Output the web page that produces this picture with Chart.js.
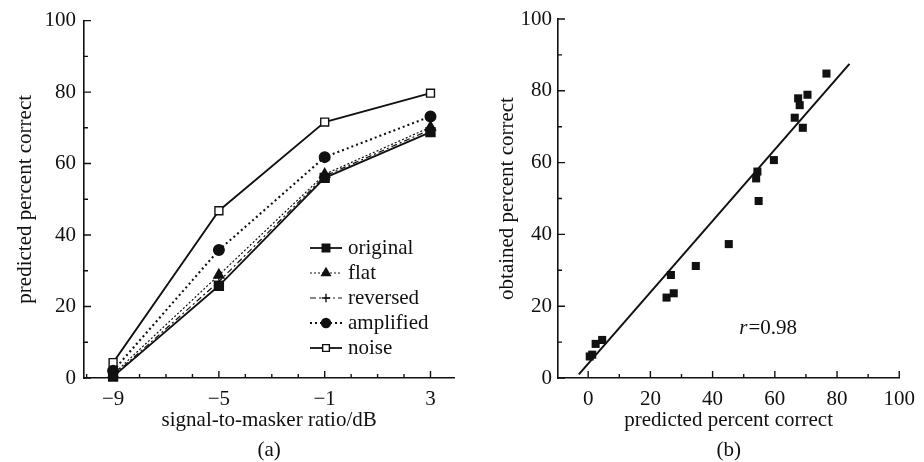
<!DOCTYPE html>
<html>
<head>
<meta charset="utf-8">
<script src="https://cdn.jsdelivr.net/npm/chart.js@4.4.0/dist/chart.umd.min.js"></script>
<style>
  html, body { margin: 0; padding: 0; background: #fff; }
  #wrap { position: relative; width: 924px; height: 462px; }
  .panel { position: absolute; top: 0; width: 462px; height: 462px; }
  #panelA { left: 0; }
  #panelB { left: 462px; }
</style>
</head>
<body>
<div id="wrap">
  <div class="panel" id="panelA"><canvas id="chartA"></canvas></div>
  <div class="panel" id="panelB"><canvas id="chartB"></canvas></div>
</div>
<script>
// ---- panel (a): predicted percent correct vs signal-to-masker ratio
const snrValues = [-9, -5, -1, 3];
const originalPct = [0.4, 25.8, 56, 68.8];
const flatPct = [1, 28.8, 57, 70.2];
const reversedPct = [0.6, 27, 56.5, 69.5];
const amplifiedPct = [2, 35.8, 61.8, 73.2];
const noisePct = [4.3, 46.8, 71.6, 79.7];
const snrTicks = [-9, -5, -1, 3];
const pctTicks = [0, 20, 40, 60, 80, 100];

// ---- panel (b): obtained vs predicted percent correct
const predictedPct = [0.5, 1.3, 2.4, 4.5, 25.2, 26.6, 27.5, 34.6, 45.2, 54.0, 54.4, 54.8, 59.7, 66.4, 67.5, 68.0, 69.0, 70.5, 76.6];
const obtainedPct = [6.0, 6.5, 9.5, 10.6, 22.4, 28.7, 23.6, 31.2, 37.3, 55.6, 57.5, 49.3, 60.7, 72.5, 77.9, 76.0, 69.7, 78.9, 84.8];
const fitLineX = [-3, 84];
const fitLineY = [1, 87.5];
const predTicks = [0, 20, 40, 60, 80, 100];
const rLabel = { x: 48.6, y: 13.9, name: 'r', value: '=0.98' };

const FONT = "'Liberation Serif', 'Times New Roman', serif";
const FSIZE = 21;
const tickFont = { family: FONT, size: FSIZE };
const ink = '#111';

const toPoints = (xs, ys) => xs.map((x, i) => ({ x: x, y: ys[i] }));
const fmtNum = v => (v < 0 ? '\u2212' + Math.abs(v) : String(v));

// inward major + minor tick marks
const innerTicks = {
  id: 'innerTicks',
  afterDraw(chart, args, opts) {
    const ctx = chart.ctx;
    const area = chart.chartArea;
    const xs = chart.scales.x, ys = chart.scales.y;
    ctx.save();
    ctx.strokeStyle = ink;
    ctx.lineWidth = 1.4;
    ctx.beginPath();
    for (let v = opts.xFrom; v <= xs.max + 1e-9; v += opts.xStep) {
      if (v < xs.min) continue;
      const major = opts.xMajor.some(m => Math.abs(m - v) < 1e-6);
      const px = xs.getPixelForValue(v);
      ctx.moveTo(px, area.bottom);
      ctx.lineTo(px, area.bottom - (major ? 7 : 4));
    }
    for (let v = 0; v <= ys.max + 1e-9; v += opts.yStep) {
      const major = opts.yMajor.some(m => Math.abs(m - v) < 1e-6);
      const py = ys.getPixelForValue(v);
      ctx.moveTo(area.left, py);
      ctx.lineTo(area.left + (major ? 7 : 4), py);
    }
    ctx.stroke();
    ctx.restore();
  }
};

// legend with line sample + marker, drawn in the lower right of panel (a)
const sampleLegend = {
  id: 'sampleLegend',
  afterDraw(chart, args, opts) {
    if (!opts.show) return;
    const ctx = chart.ctx;
    ctx.save();
    chart.data.datasets.forEach((ds, i) => {
      const y = opts.top + i * opts.rowGap;
      ctx.strokeStyle = ds.borderColor;
      ctx.lineWidth = ds.borderWidth;
      ctx.setLineDash(ds.borderDash || []);
      ctx.beginPath();
      ctx.moveTo(opts.left, y);
      ctx.lineTo(opts.left + opts.lineLen, y);
      ctx.stroke();
      ctx.setLineDash([]);
      ctx.fillStyle = ds.pointBackgroundColor;
      ctx.strokeStyle = ds.pointBorderColor;
      ctx.lineWidth = ds.pointBorderWidth;
      Chart.helpers.drawPoint(ctx, {
        pointStyle: ds.pointStyle, radius: ds.pointRadius * 0.85,
        rotation: 0, borderWidth: ds.pointBorderWidth
      }, opts.left + opts.lineLen / 2, y);
      ctx.fillStyle = ink;
      ctx.font = FSIZE + 'px ' + FONT;
      ctx.textBaseline = 'middle';
      ctx.fillText(ds.label, opts.left + opts.lineLen + 6, y);
    });
    ctx.restore();
  }
};

// r = 0.98 annotation
const rText = {
  id: 'rText',
  afterDraw(chart, args, opts) {
    if (!opts.show) return;
    const ctx = chart.ctx;
    const px = chart.scales.x.getPixelForValue(rLabel.x);
    const py = chart.scales.y.getPixelForValue(rLabel.y);
    ctx.save();
    ctx.fillStyle = ink;
    ctx.textBaseline = 'middle';
    ctx.font = 'italic ' + FSIZE + 'px ' + FONT;
    ctx.fillText(rLabel.name, px, py);
    const w = ctx.measureText(rLabel.name).width;
    ctx.font = FSIZE + 'px ' + FONT;
    ctx.fillText(rLabel.value, px + w + 1, py);
    ctx.restore();
  }
};

function axis(opts) {
  return {
    type: 'linear',
    min: opts.min,
    max: opts.max,
    afterBuildTicks: s => { s.ticks = opts.ticks.map(v => ({ value: v })); },
    afterFit: s => { if (opts.width) s.width = opts.width; if (opts.height) s.height = opts.height; },
    grid: { display: false, drawTicks: false },
    border: { display: true, color: ink, width: 1.6 },
    ticks: {
      color: ink, font: tickFont, padding: opts.tickPad, autoSkip: false, maxRotation: 0,
      callback: v => fmtNum(v)
    },
    title: {
      display: true, text: opts.title, color: ink,
      font: { family: FONT, size: FSIZE, lineHeight: 1.45 },
      padding: opts.titlePad
    }
  };
}

function lineSet(label, values, dash, width, style, radius, fill) {
  return {
    label: label,
    data: toPoints(snrValues, values),
    borderColor: ink,
    borderWidth: width,
    borderDash: dash,
    pointStyle: style,
    pointRadius: radius,
    pointBackgroundColor: fill,
    pointBorderColor: ink,
    pointBorderWidth: 1.4,
    clip: false,
    tension: 0
  };
}

new Chart(document.getElementById('chartA'), {
  type: 'line',
  data: {
    datasets: [
      lineSet('original', originalPct, [], 1.8, 'rect', 6.3, ink),
      lineSet('flat', flatPct, [2, 2], 1.2, 'triangle', 5.8, ink),
      lineSet('reversed', reversedPct, [6, 3, 2, 3], 1.2, 'cross', 5, ink),
      lineSet('amplified', amplifiedPct, [2, 3], 2.1, 'circle', 5.3, ink),
      lineSet('noise', noisePct, [], 1.8, 'rect', 5.6, '#fff')
    ]
  },
  options: {
    responsive: true,
    maintainAspectRatio: false,
    animation: false,
    events: [],
    layout: { padding: { top: 19, right: 4, left: 0, bottom: 0 } },
    scales: {
      x: axis({ min: -10.1, max: 3.9, ticks: snrTicks, height: 84, tickPad: 9,
        title: ['signal-to-masker ratio/dB', '(a)'], titlePad: { top: 0, bottom: -4 } }),
      y: axis({ min: 0, max: 100, ticks: pctTicks, width: 84, tickPad: 8,
        title: 'predicted percent correct', titlePad: { top: 10, bottom: 0 } })
    },
    plugins: {
      legend: { display: false },
      tooltip: { enabled: false },
      innerTicks: { xFrom: -10, xStep: 1, xMajor: snrTicks, yStep: 10, yMajor: pctTicks },
      sampleLegend: { show: true, left: 310, lineLen: 32, top: 248, rowGap: 25 }
    }
  },
  plugins: [innerTicks, sampleLegend]
});

new Chart(document.getElementById('chartB'), {
  type: 'scatter',
  data: {
    datasets: [
      {
        label: 'points',
        data: toPoints(predictedPct, obtainedPct),
        pointStyle: 'rect',
        pointRadius: 5.7,
        pointBackgroundColor: ink,
        pointBorderColor: ink,
        pointBorderWidth: 0,
        clip: false
      },
      {
        type: 'line',
        label: 'fit',
        data: toPoints(fitLineX, fitLineY),
        borderColor: ink,
        borderWidth: 2,
        pointRadius: 0,
        showLine: true,
        clip: false
      }
    ]
  },
  options: {
    responsive: true,
    maintainAspectRatio: false,
    animation: false,
    events: [],
    layout: { padding: { top: 19, right: 16, left: 0, bottom: 0 } },
    scales: {
      x: axis({ min: -9.7, max: 100, ticks: predTicks, height: 84, tickPad: 9,
        title: ['predicted percent correct', '(b)'], titlePad: { top: 0, bottom: -4 } }),
      y: axis({ min: 0, max: 100, ticks: pctTicks, width: 96, tickPad: 6,
        title: 'obtained percent correct', titlePad: { top: 30, bottom: 0 } })
    },
    plugins: {
      legend: { display: false },
      tooltip: { enabled: false },
      innerTicks: { xFrom: 0, xStep: 10, xMajor: predTicks, yStep: 10, yMajor: pctTicks },
      rText: { show: true }
    }
  },
  plugins: [innerTicks, rText]
});
</script>
</body>
</html>
